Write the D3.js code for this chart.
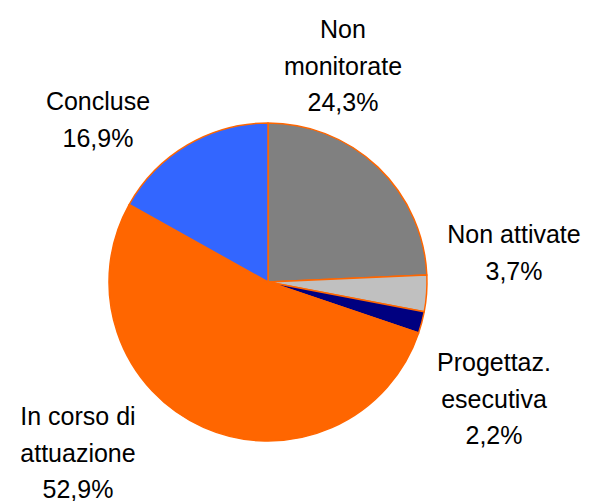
<!DOCTYPE html>
<html>
<head>
<meta charset="utf-8">
<script src="https://cdn.jsdelivr.net/npm/d3@7"></script>
<style>
  html, body { margin: 0; padding: 0; background: #fff; }
  text { font-family: Arial, "Liberation Sans", sans-serif; fill: #000; }
</style>
</head>
<body>
<div id="chart"></div>
<script>
// Pie chart: stato di attuazione (D3 v7)

const categories = ['Non monitorate', 'Non attivate', 'Progettaz. esecutiva', 'In corso di attuazione', 'Concluse'];
const values = [24.3, 3.7, 2.2, 52.9, 16.9];
const labelLines = [
	['Non', 'monitorate'],
	['Non attivate'],
	['Progettaz.', 'esecutiva'],
	['In corso di', 'attuazione'],
	['Concluse']
];
const colors = ['#808080', '#c0c0c0', '#000080', '#ff6600', '#3366ff'];

// label anchors (centre x, first baseline y), layout only
const labelAnchor = [
	[343, 38],
	[514, 243],
	[494, 371],
	[78, 425],
	[98, 110]
];

const W = 592, H = 501;
const cx = 268, cy = 282, r = 159;
const lineH = 36.5;

const svg = d3.select('#chart').append('svg')
	.attr('width', W)
	.attr('height', H);

const data = categories.map((c, i) => ({name: c, value: values[i], lines: labelLines[i], idx: i}));

const pie = d3.pie()
	.value(d => d.value)
	.sort(null);

const arc = d3.arc()
	.innerRadius(0)
	.outerRadius(r);

const g = svg.append('g')
	.attr('transform', `translate(${cx},${cy})`);

g.selectAll('path')
	.data(pie(data))
	.enter()
	.append('path')
	.attr('d', arc)
	.attr('fill', d => colors[d.data.idx])
	.attr('stroke', '#ff6600')
	.attr('stroke-width', 1.5)
	.attr('stroke-linejoin', 'round');

// labels
const fmt = v => v.toFixed(1).replace('.', ',') + '%';

const lbl = svg.selectAll('.lbl')
	.data(data)
	.enter()
	.append('text')
	.attr('class', 'lbl')
	.attr('text-anchor', 'middle')
	.style('font-size', '25px');

lbl.each(function (d, i) {
	const t = d3.select(this);
	const [x, y] = labelAnchor[i];
	const lines = d.lines.concat([fmt(d.value)]);
	lines.forEach((s, k) => {
		t.append('tspan')
			.attr('x', x)
			.attr('y', y + k * lineH)
			.text(s);
	});
});
</script>
</body>
</html>
